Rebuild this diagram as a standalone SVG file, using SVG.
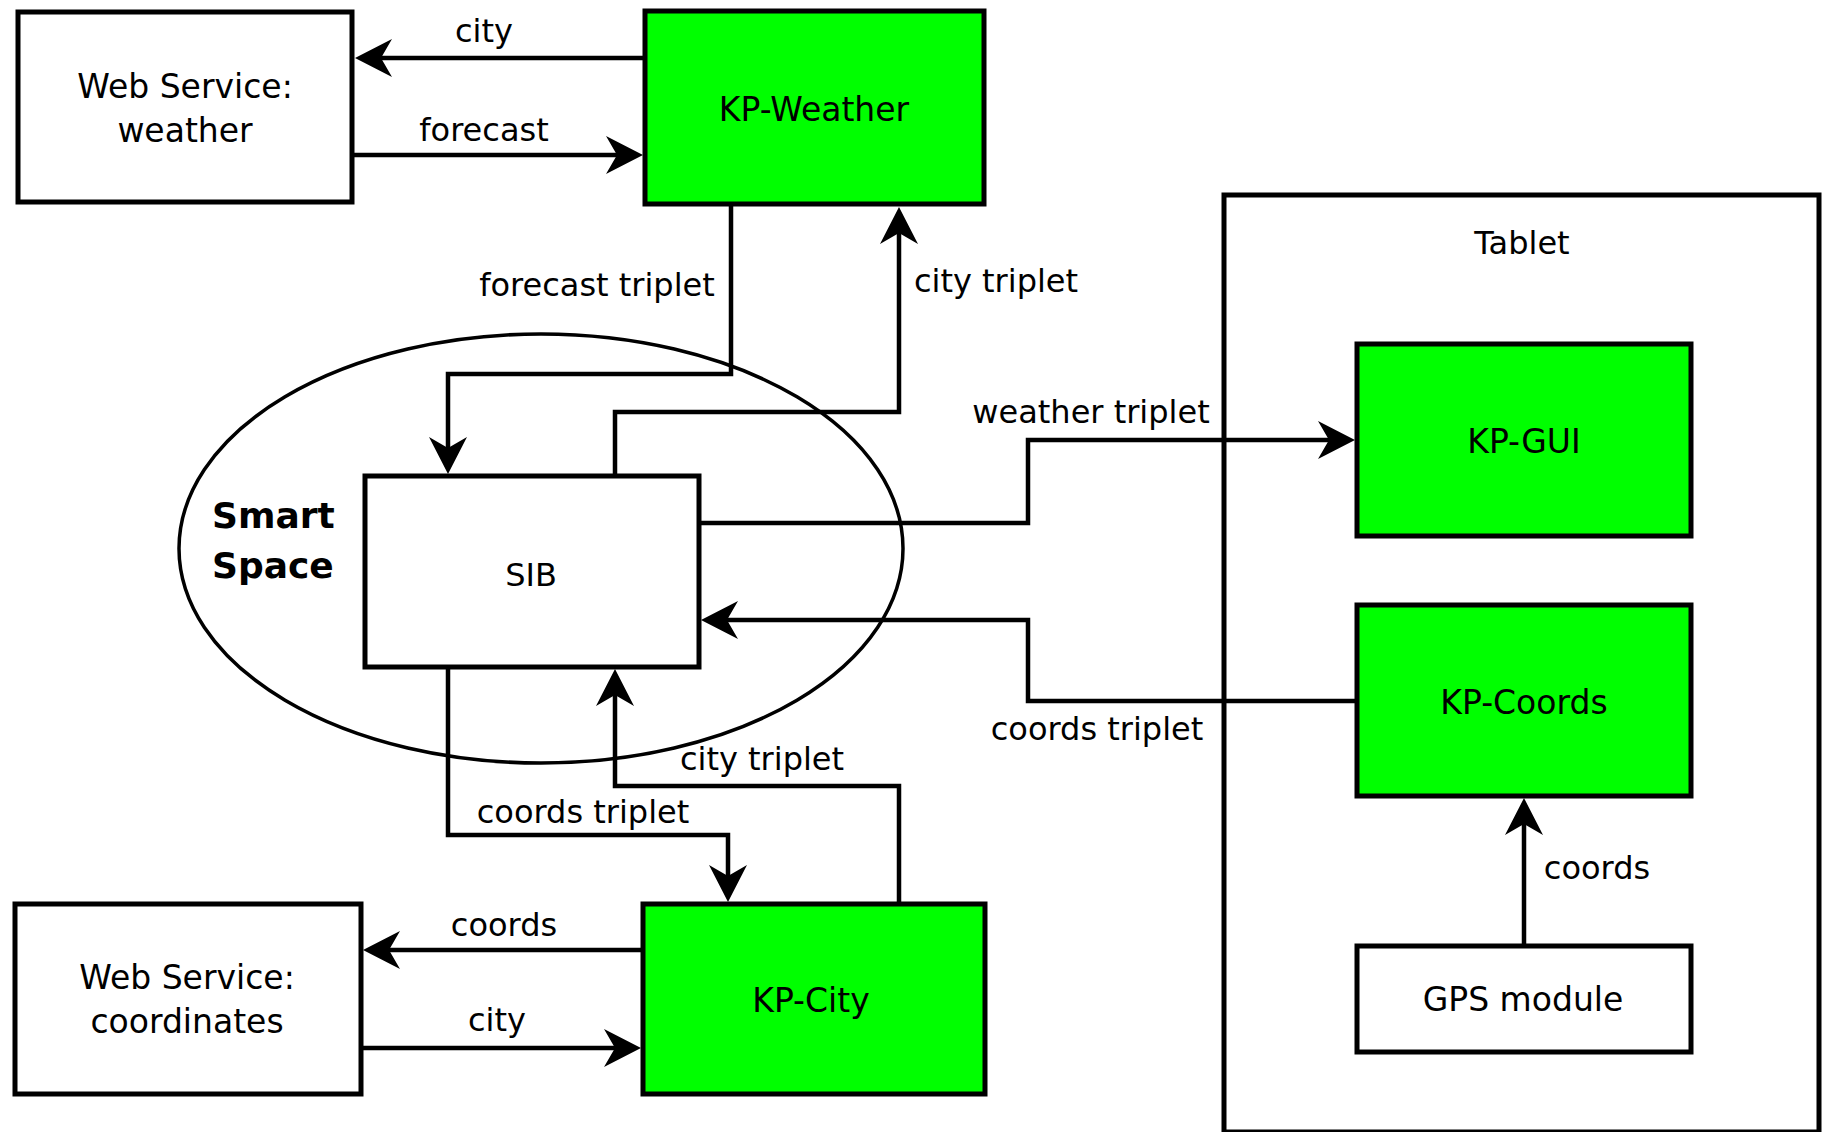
<svg xmlns="http://www.w3.org/2000/svg" width="1822" height="1132" viewBox="0 0 1822 1132">
<style>
  .box { fill: #ffffff; stroke: #000; stroke-width: 5; }
  .kp { fill: #00ff00; stroke: #000; stroke-width: 5; }
  .t { font-family: "DejaVu Sans", "Liberation Sans", sans-serif; font-size: 32px; fill: #000; text-anchor: middle; }
  .n { font-size: 33px; }
  .b { font-family: "DejaVu Sans", "Liberation Sans", sans-serif; font-size: 36px; font-weight: bold; fill: #000; }
  .c { fill: none; stroke: #000; stroke-width: 4.5; marker-end: url(#arr); }
</style>
<defs>
  <marker id="arr" markerUnits="userSpaceOnUse" viewBox="-30 -20 40 40" markerWidth="40" markerHeight="40" refX="0" refY="0" orient="auto">
    <path d="M8,0 L-29,-19 L-18,0 L-29,19 Z" fill="#000"/>
  </marker>
</defs>
<rect width="1822" height="1132" fill="#fff"/>

<g id="tablet">
  <rect x="1224" y="195" width="595" height="937" fill="none" stroke="#000" stroke-width="5"/>
  <text class="t" x="1522" y="254">Tablet</text>
</g>

<g id="smart-space">
  <ellipse cx="541" cy="548.5" rx="362" ry="214.5" fill="none" stroke="#000" stroke-width="3.5"/>
  <text class="b" x="212" y="528">Smart</text>
  <text class="b" x="212" y="578">Space</text>
</g>

<g id="ws-weather">
  <rect class="box" x="18" y="12" width="334" height="190"/>
  <text class="t n" x="185" y="98">Web Service:</text>
  <text class="t n" x="185" y="142">weather</text>
</g>

<g id="kp-weather">
  <rect class="kp" x="645" y="11" width="339" height="193"/>
  <text class="t n" x="814" y="121">KP-Weather</text>
</g>

<g id="sib">
  <rect class="box" x="365" y="476" width="334" height="191"/>
  <text class="t" x="531" y="586">SIB</text>
</g>

<g id="kp-gui">
  <rect class="kp" x="1357" y="344" width="334" height="192"/>
  <text class="t n" x="1524" y="453">KP-GUI</text>
</g>

<g id="kp-coords">
  <rect class="kp" x="1357" y="605" width="334" height="191"/>
  <text class="t n" x="1524" y="714">KP-Coords</text>
</g>

<g id="gps">
  <rect class="box" x="1357" y="946" width="334" height="106"/>
  <text class="t n" x="1523" y="1011">GPS module</text>
</g>

<g id="ws-coordinates">
  <rect class="box" x="15" y="904" width="346" height="190"/>
  <text class="t n" x="187" y="989">Web Service:</text>
  <text class="t n" x="187" y="1033">coordinates</text>
</g>

<g id="kp-city">
  <rect class="kp" x="643" y="904" width="342" height="190"/>
  <text class="t n" x="811" y="1012">KP-City</text>
</g>

<g id="connectors">
  <path class="c" d="M645,58 L363,58"/>
  <path class="c" d="M354,155 L635,155"/>
  <path class="c" d="M731,205 L731,374 L448,374 L448,466"/>
  <path class="c" d="M615,476 L615,412 L899,412 L899,215"/>
  <path class="c" d="M699,523 L1028,523 L1028,440 L1347,440"/>
  <path class="c" d="M1357,701 L1028,701 L1028,620 L709,620"/>
  <path class="c" d="M1524,946 L1524,806"/>
  <path class="c" d="M448,667 L448,835 L728,835 L728,894"/>
  <path class="c" d="M899,904 L899,786 L615,786 L615,677"/>
  <path class="c" d="M643,950 L371,950"/>
  <path class="c" d="M361,1048 L633,1048"/>

  <text class="t" x="484" y="42">city</text>
  <text class="t" x="484" y="141">forecast</text>
  <text class="t" x="597" y="296">forecast triplet</text>
  <text class="t" x="996" y="292">city triplet</text>
  <text class="t" x="1091" y="423">weather triplet</text>
  <text class="t" x="1097" y="740">coords triplet</text>
  <text class="t" x="583" y="823">coords triplet</text>
  <text class="t" x="762" y="770">city triplet</text>
  <text class="t" x="504" y="936">coords</text>
  <text class="t" x="497" y="1031">city</text>
  <text class="t" x="1597" y="879">coords</text>
</g>
</svg>
